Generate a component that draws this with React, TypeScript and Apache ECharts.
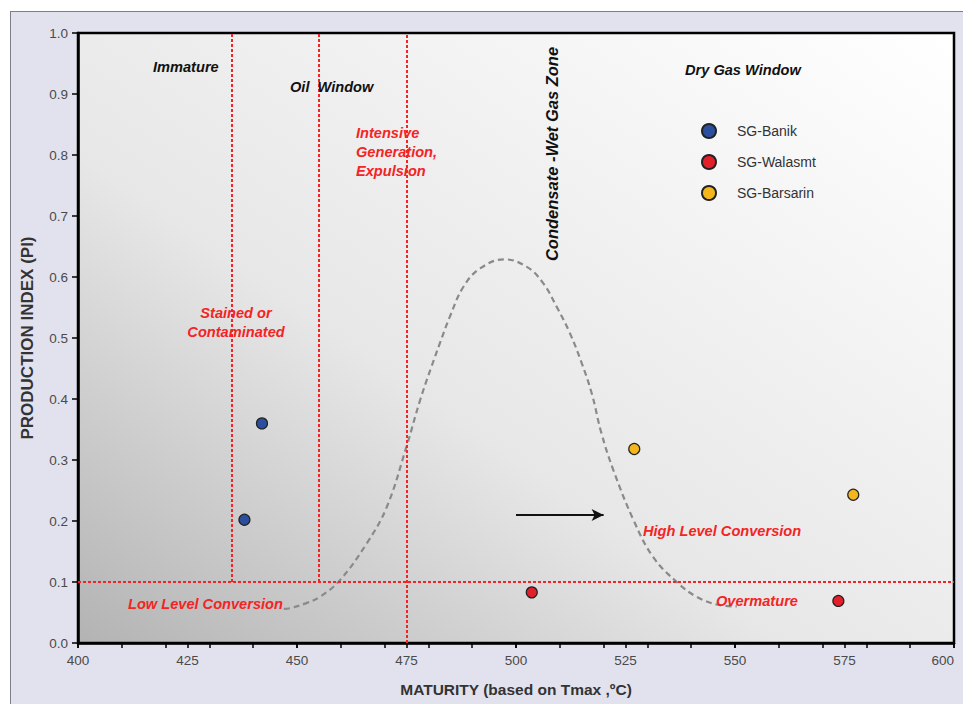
import React, { useEffect, useRef } from "react";
import * as echarts from "echarts";

const FONT = '"Liberation Sans", Arial, Helvetica, sans-serif';

// Axis setup
const xMin = 400;
const xMax = 600;
const xLabelStep = 25;
const xTickStep = 10;
const yMin = 0;
const yMax = 1;
const yStep = 0.1;

// Samples: [Tmax (°C), PI]
const banik = [
  [442, 0.36],
  [438, 0.202],
];
const walasmt = [
  [503.6, 0.083],
  [573.6, 0.069],
];
const barsarin = [
  [527, 0.318],
  [577, 0.243],
];

// Dashed bell curve
const curveX = [447, 448.4, 452, 455.3, 459.8, 465.9, 470.5, 475, 478.1, 480.7, 482.6, 484.9, 488, 491.8, 497.3, 502.4, 506.2, 509.3, 512.3, 515, 517.3, 519.5, 522.2, 526.8, 531.3, 536.7, 541.2, 546.6, 550.4];
const curveY = [0.056, 0.057, 0.065, 0.076, 0.103, 0.163, 0.223, 0.322, 0.398, 0.453, 0.491, 0.535, 0.584, 0.614, 0.629, 0.617, 0.59, 0.551, 0.508, 0.459, 0.409, 0.344, 0.284, 0.202, 0.141, 0.1, 0.076, 0.062, 0.06];

// Zone boundaries
const zoneBoundaries = [435, 455]; // from PI threshold to top
const expulsionBoundary = 475; // full height
const piThreshold = 0.1;
const arrowFrom = [500, 0.21];
const arrowTo = [520, 0.21];

const seriesNames = ["SG-Banik", "SG-Walasmt", "SG-Barsarin"];
const seriesColors = ["#2a4f9e", "#e3202a", "#f3b61c"];

const RED = "#f42424";
const BLACK = "#111111";

function txt(
  text: string,
  x: number,
  y: number,
  fill: string,
  opts: { size?: number; align?: string; lh?: number; rotation?: number } = {}
) {
  const size = opts.size ?? 14.6;
  return {
    type: "text",
    x,
    y,
    z: 100,
    rotation: opts.rotation ?? 0,
    silent: true,
    style: {
      text,
      fill,
      font: `italic bold ${size}px ${FONT}`,
      textAlign: opts.align ?? "left",
      textVerticalAlign: "middle",
      align: opts.align ?? "left",
      verticalAlign: "middle",
      lineHeight: opts.lh ?? size * 1.25,
    },
  };
}

export default function App() {
  const ref = useRef<HTMLDivElement>(null);

  useEffect(() => {
    if (!ref.current) return;
    const chart = echarts.init(ref.current, null, { renderer: "svg", width: 963, height: 704 });

    const redLines: any[] = zoneBoundaries.map((b) => [
      { coord: [b, piThreshold] },
      { coord: [b, yMax] },
    ]);
    redLines.push([{ coord: [expulsionBoundary, yMin] }, { coord: [expulsionBoundary, yMax] }]);
    redLines.push([{ coord: [xMin, piThreshold] }, { coord: [xMax, piThreshold] }]);

    const scatterData = [banik, walasmt, barsarin];

    const option: any = {
      animation: false,
      backgroundColor: "transparent",
      grid: {
        left: 78,
        right: 9,
        top: 33,
        bottom: 61,
        containLabel: false,
        outerBoundsMode: "none",
        show: true,
        borderColor: "#000",
        borderWidth: 2.5,
        backgroundColor: new echarts.graphic.LinearGradient(0, 1, 1, 0, [
          { offset: 0, color: "#b3b3b3" },
          { offset: 0.4, color: "#e7e7e7" },
          { offset: 1, color: "#ffffff" },
        ]),
      },
      legend: {
        data: seriesNames,
        orient: "vertical",
        left: 696,
        top: 118,
        padding: 5,
        itemWidth: 14,
        itemHeight: 14,
        itemGap: 15,
        textStyle: {
          fontSize: 14,
          color: "#333",
          fontFamily: FONT,
          padding: [0, 0, 0, 16],
          lineHeight: 14,
        },
      },
      xAxis: [
        {
          type: "value",
          min: xMin,
          max: xMax,
          interval: xLabelStep,
          name: "MATURITY (based on Tmax ,ºC)",
          nameLocation: "middle",
          nameGap: 38,
          nameTextStyle: { fontWeight: "bold", fontSize: 15.5, color: "#333", fontFamily: FONT },
          axisLine: { show: true, onZero: false, lineStyle: { color: "#000", width: 2.5 } },
          axisTick: { show: true, length: 5, lineStyle: { color: "#000", width: 1.5 } },
          axisLabel: { color: "#4a4a4a", fontSize: 13.5, margin: 10, fontFamily: FONT, alignMaxLabel: "right" },
          splitLine: { show: false },
        },
        {
          type: "value",
          min: xMin,
          max: xMax,
          interval: xTickStep,
          position: "bottom",
          axisLine: { show: false },
          axisTick: { show: true, length: 5, lineStyle: { color: "#000", width: 1.5 } },
          axisLabel: { show: false },
          splitLine: { show: false },
        },
      ],
      yAxis: {
        type: "value",
        min: yMin,
        max: yMax,
        interval: yStep,
        name: "PRODUCTION INDEX (PI)",
        nameLocation: "middle",
        nameGap: 42,
        nameTextStyle: { fontWeight: "bold", fontSize: 17, color: "#333", fontFamily: FONT },
        axisLine: { show: true, onZero: false, lineStyle: { color: "#000", width: 2.5 } },
        axisTick: { show: true, length: 6, lineStyle: { color: "#000", width: 1.5 } },
        axisLabel: {
          color: "#4a4a4a",
          fontSize: 13.5,
          margin: 10,
          fontFamily: FONT,
          formatter: (v: number) => v.toFixed(1),
        },
        splitLine: { show: false },
      },
      series: [
        {
          name: "curve",
          type: "line",
          xAxisIndex: 0,
          data: curveX.map((x, i) => [x, curveY[i]]),
          smooth: 0.4,
          showSymbol: false,
          silent: true,
          lineStyle: { color: "#8a8a8a", width: 2.2, type: [6, 4] },
          z: 2,
        },
        {
          name: "guides",
          type: "line",
          xAxisIndex: 0,
          data: [],
          silent: true,
          z: 3,
          markLine: {
            silent: true,
            symbol: ["none", "none"],
            label: { show: false },
            lineStyle: { color: RED, width: 2, type: [3, 2] },
            data: redLines,
          },
        },
        {
          name: "arrow",
          type: "line",
          xAxisIndex: 0,
          data: [],
          silent: true,
          z: 4,
          markLine: {
            silent: true,
            symbol: ["none", "arrow"],
            symbolSize: [9, 12],
            label: { show: false },
            lineStyle: { color: "#111", width: 2, type: "solid" },
            data: [[{ coord: arrowFrom }, { coord: arrowTo }]],
          },
        },
        ...seriesNames.map((name, i) => ({
          name,
          type: "scatter",
          xAxisIndex: 0,
          data: scatterData[i],
          symbol: "circle",
          symbolSize: 11,
          z: 10,
          itemStyle: { color: seriesColors[i], borderColor: "#222", borderWidth: 1.2, opacity: 1 },
        })),
      ],
      graphic: [
        txt("Immature", 153, 67, BLACK),
        txt("Oil  Window", 290, 87, BLACK),
        txt("Dry Gas Window", 685, 70, BLACK),
        txt("Condensate -Wet Gas Zone", 552, 154, BLACK, { size: 16.5, align: "center", rotation: Math.PI / 2 }),
        txt("Intensive\nGeneration,\nExpulsion", 356, 152, RED, { lh: 19 }),
        txt("Stained or\nContaminated", 236, 322, RED, { lh: 19, align: "center" }),
        txt("Low Level Conversion", 128, 604, RED),
        txt("High Level Conversion", 643, 531, RED),
        txt("Overmature", 716, 601, RED),
      ],
    };

    chart.setOption(option);
    return () => chart.dispose();
  }, []);

  return (
    <div
      style={{
        position: "fixed",
        left: 0,
        top: 0,
        width: 963,
        height: 704,
        background: "#ffffff",
        overflow: "hidden",
      }}
    >
      <div
        style={{
          position: "absolute",
          left: 10,
          top: 11,
          width: 970,
          height: 710,
          background: "#e2e2ee",
          borderLeft: "1.5px solid #7d7d8c",
          borderTop: "1.5px solid #7d7d8c",
        }}
      />
      <div ref={ref} style={{ position: "absolute", left: 0, top: 0, width: 963, height: 704 }} />
    </div>
  );
}
